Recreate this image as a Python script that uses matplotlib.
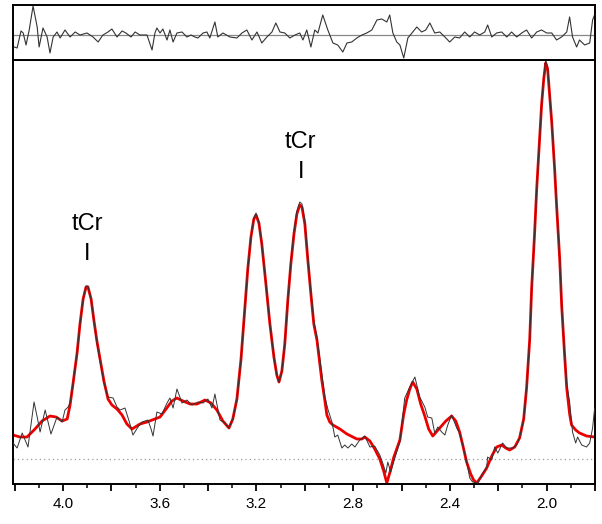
import matplotlib
matplotlib.use("Agg")
import matplotlib.pyplot as plt
from matplotlib.ticker import MultipleLocator, FuncFormatter

plt.rcParams['font.family'] = ['Liberation Sans', 'DejaVu Sans']

# fitted spectrum (red), chemical shift in ppm
fit_ppm = [4.207, 4.178, 4.149, 4.116, 4.087, 4.054, 4.029, 4.004, 3.983, 3.971,
           3.959, 3.942, 3.930, 3.917, 3.905, 3.897, 3.884, 3.872, 3.860, 3.847,
           3.831, 3.814, 3.798, 3.777, 3.756, 3.736, 3.715, 3.682, 3.653, 3.620,
           3.599, 3.574, 3.550, 3.529, 3.504, 3.475, 3.446, 3.413, 3.388, 3.364,
           3.339, 3.314, 3.298, 3.281, 3.264, 3.248, 3.236, 3.223, 3.211, 3.202,
           3.190, 3.178, 3.161, 3.145, 3.128, 3.116, 3.107, 3.095, 3.083, 3.070,
           3.058, 3.045, 3.033, 3.021, 3.012, 3.000, 2.988, 2.975, 2.963, 2.950,
           2.938, 2.930, 2.917, 2.909, 2.897, 2.884, 2.855, 2.826, 2.785, 2.764,
           2.752, 2.731, 2.711, 2.690, 2.674, 2.661, 2.649, 2.632, 2.607, 2.591,
           2.579, 2.566, 2.554, 2.537, 2.521, 2.504, 2.488, 2.471, 2.442, 2.417,
           2.393, 2.376, 2.360, 2.347, 2.331, 2.314, 2.302, 2.289, 2.269, 2.248,
           2.227, 2.207, 2.186, 2.169, 2.153, 2.132, 2.112, 2.095, 2.083, 2.070,
           2.062, 2.050, 2.041, 2.029, 2.021, 2.012, 2.004, 1.996, 1.988, 1.979,
           1.967, 1.959, 1.946, 1.938, 1.926, 1.917, 1.905, 1.897, 1.880, 1.864,
           1.835, 1.802]
fit_val = [24, 22, 22, 30, 38, 43, 42, 38, 40, 54,
           75, 106, 135, 160, 172, 172, 160, 138, 118, 100,
           78, 60, 54, 50, 44, 35, 30, 35, 37, 40,
           42, 50, 58, 61, 58, 55, 55, 59, 56, 49,
           38, 31, 40, 60, 100, 152, 190, 222, 240, 244,
           236, 215, 175, 136, 102, 84, 77, 88, 115, 160,
           195, 225, 245, 254, 252, 235, 200, 165, 135, 119,
           95, 79, 58, 44, 37, 34, 30, 25, 20, 20,
           22, 18, 10, 0, -12, -24, -14, 2, 19, 45,
           59, 70, 77, 70, 55, 43, 30, 23, 31, 38,
           43, 38, 27, 14, -3, -15, -21, -24, -17, -9,
           3, 12, 14, 11, 9, 12, 21, 40, 71, 120,
           171, 225, 271, 320, 354, 380, 396, 390, 365, 337,
           290, 254, 200, 154, 105, 71, 45, 34, 29, 26,
           23, 22]

# measured spectrum (black)
data_ppm = [4.207, 4.190, 4.169, 4.157, 4.145, 4.132, 4.120, 4.107, 4.095, 4.074,
            4.062, 4.050, 4.025, 4.004, 3.992, 3.979, 3.971, 3.959, 3.942, 3.930,
            3.917, 3.905, 3.897, 3.884, 3.872, 3.860, 3.847, 3.831, 3.814, 3.793,
            3.777, 3.764, 3.744, 3.727, 3.711, 3.690, 3.674, 3.649, 3.636, 3.628,
            3.612, 3.591, 3.570, 3.558, 3.545, 3.529, 3.508, 3.488, 3.467, 3.442,
            3.421, 3.401, 3.384, 3.372, 3.351, 3.331, 3.314, 3.298, 3.281, 3.264,
            3.248, 3.236, 3.223, 3.211, 3.202, 3.190, 3.178, 3.161, 3.145, 3.128,
            3.116, 3.107, 3.095, 3.083, 3.070, 3.058, 3.045, 3.033, 3.021, 3.012,
            3.000, 2.988, 2.975, 2.963, 2.950, 2.938, 2.930, 2.917, 2.905, 2.888,
            2.876, 2.864, 2.847, 2.835, 2.822, 2.806, 2.793, 2.773, 2.752, 2.731,
            2.711, 2.690, 2.678, 2.665, 2.657, 2.645, 2.628, 2.607, 2.587, 2.566,
            2.545, 2.525, 2.504, 2.492, 2.475, 2.463, 2.450, 2.434, 2.421, 2.409,
            2.393, 2.372, 2.360, 2.347, 2.331, 2.318, 2.306, 2.285, 2.269, 2.248,
            2.244, 2.227, 2.215, 2.202, 2.182, 2.165, 2.140, 2.124, 2.112, 2.095,
            2.083, 2.070, 2.062, 2.050, 2.041, 2.029, 2.021, 2.012, 2.004, 1.996,
            1.988, 1.979, 1.967, 1.959, 1.946, 1.938, 1.926, 1.917, 1.905, 1.893,
            1.880, 1.872, 1.855, 1.835, 1.822, 1.810, 1.806, 1.802]
data_val = [16, 11, 26, 19, 12, 35, 57, 42, 27, 49,
            37, 25, 42, 37, 49, 52, 56, 75, 106, 135,
            160, 173, 173, 160, 138, 116, 98, 76, 62, 61,
            52, 49, 51, 38, 24, 32, 37, 39, 30, 23,
            47, 45, 56, 61, 51, 70, 56, 59, 54, 57,
            56, 60, 51, 65, 39, 36, 31, 40, 60, 100,
            152, 190, 222, 241, 246, 237, 215, 175, 136, 102,
            84, 77, 88, 115, 160, 197, 228, 248, 257, 255,
            238, 202, 167, 138, 122, 100, 85, 62, 50, 37,
            22, 24, 11, 14, 11, 15, 12, 19, 23, 12,
            13, 4, -4, -14, -3, -13, 1, 17, 61, 72,
            82, 62, 52, 42, 41, 26, 32, 27, 24, 34,
            44, 31, 26, 14, -3, -19, -23, -24, -16, -8,
            2, -1, 12, 6, 16, 11, 11, 14, 21, 40,
            71, 120, 171, 225, 271, 320, 354, 382, 399, 392,
            366, 337, 290, 254, 200, 154, 105, 75, 57, 27,
            16, 22, 14, 12, 16, 31, 41, 50]

# residual (top panel)
res_ppm = [4.202, 4.190, 4.174, 4.165, 4.153, 4.140, 4.124, 4.107, 4.099, 4.083,
           4.066, 4.054, 4.041, 4.025, 4.012, 3.992, 3.971, 3.950, 3.930, 3.901,
           3.876, 3.855, 3.835, 3.814, 3.798, 3.777, 3.756, 3.740, 3.719, 3.702,
           3.682, 3.653, 3.632, 3.620, 3.612, 3.599, 3.587, 3.570, 3.558, 3.545,
           3.529, 3.508, 3.488, 3.471, 3.455, 3.442, 3.421, 3.405, 3.393, 3.372,
           3.360, 3.339, 3.310, 3.281, 3.260, 3.240, 3.219, 3.198, 3.178, 3.157,
           3.136, 3.120, 3.103, 3.083, 3.062, 3.041, 3.021, 3.008, 2.992, 2.975,
           2.959, 2.946, 2.926, 2.905, 2.884, 2.864, 2.843, 2.826, 2.806, 2.785,
           2.764, 2.744, 2.723, 2.702, 2.682, 2.661, 2.649, 2.636, 2.620, 2.607,
           2.591, 2.574, 2.554, 2.537, 2.517, 2.500, 2.483, 2.463, 2.442, 2.421,
           2.401, 2.380, 2.360, 2.339, 2.318, 2.298, 2.277, 2.256, 2.244, 2.227,
           2.207, 2.186, 2.165, 2.145, 2.124, 2.103, 2.083, 2.062, 2.041, 2.021,
           2.000, 1.979, 1.959, 1.938, 1.917, 1.905, 1.893, 1.876, 1.864, 1.843,
           1.822, 1.810, 1.802]
res_val = [-12, -13, 4, 2, -10, 5, 29, 8, -12, 7,
           -2, -18, -2, 3, -3, 5, -2, 3, 0, 2,
           -2, -7, 0, 3, 6, -2, 4, 2, -2, 3,
           0, 0, -15, 2, 7, 2, 6, -5, 5, -7,
           2, 3, -2, 0, -2, -3, 2, 3, -3, 13,
           -2, 2, -2, -3, 2, 5, -5, 3, -8, -2,
           3, 12, 3, 2, -3, 0, 2, -5, 5, -12,
           5, 2, 20, 5, -8, -10, -17, -8, -7, -3,
           0, 2, 5, 15, 16, 13, 20, 2, -7, -10,
           -23, -3, 3, 8, 3, 5, 12, 2, 3, -2,
           -7, -2, -3, 3, -2, 3, 0, 3, 10, -2,
           2, 3, -2, 3, -2, 2, 5, -3, 3, 5,
           2, 2, -5, -2, 3, 18, -2, -12, -5, -10,
           -8, 15, 20]

# peak labels: (ppm, label y, marker y)
peak_labels = [(3.90, 229, 199), (3.017, 311, 281)]

fig = plt.figure(figsize=(6.02, 5.24), dpi=100)
ax = fig.add_axes([0.0216, 0.0763, 0.9668, 0.8092])
ax_res = fig.add_axes([0.0216, 0.8855, 0.9668, 0.1050])

ax.axhline(0, color='#999999', lw=0.9, ls=(0, (1, 2.5)), zorder=1)
ax.plot(fit_ppm, fit_val, color='#ee0000', lw=2.0, solid_joinstyle='round', zorder=2)
ax.plot(data_ppm, data_val, color='#333333', lw=0.7, solid_joinstyle='round', zorder=3)

for ppm, ly, my in peak_labels:
    ax.text(ppm, ly, 'tCr', ha='center', va='baseline', fontsize=17)
    ax.text(ppm, my, 'I', ha='center', va='baseline', fontsize=17)

ax.set_xlim(4.207, 1.80)
ax.set_ylim(-25, 399)
ax.set_yticks([])
ax.xaxis.set_major_locator(MultipleLocator(0.2))
ax.xaxis.set_minor_locator(MultipleLocator(0.1))
ax.xaxis.set_major_formatter(FuncFormatter(
    lambda v, p: f"{v:.1f}" if abs(round(v / 0.4) * 0.4 - v) < 1e-6 else ""))
ax.tick_params(axis='x', which='major', direction='out', length=5, width=1.3,
               labelsize=11, pad=4)
ax.tick_params(axis='x', which='minor', direction='out', length=3, width=1.1)
for s in ax.spines.values():
    s.set_linewidth(1.4)

ax_res.axhline(0, color='#888888', lw=0.9, zorder=1)
ax_res.plot(res_ppm, res_val, color='#333333', lw=0.8, solid_joinstyle='round', zorder=2)
ax_res.set_xlim(4.207, 1.80)
ax_res.set_ylim(-25, 30)
ax_res.set_xticks([])
ax_res.set_yticks([])
for s in ax_res.spines.values():
    s.set_linewidth(1.4)

fig.savefig('out.png', dpi=100)
